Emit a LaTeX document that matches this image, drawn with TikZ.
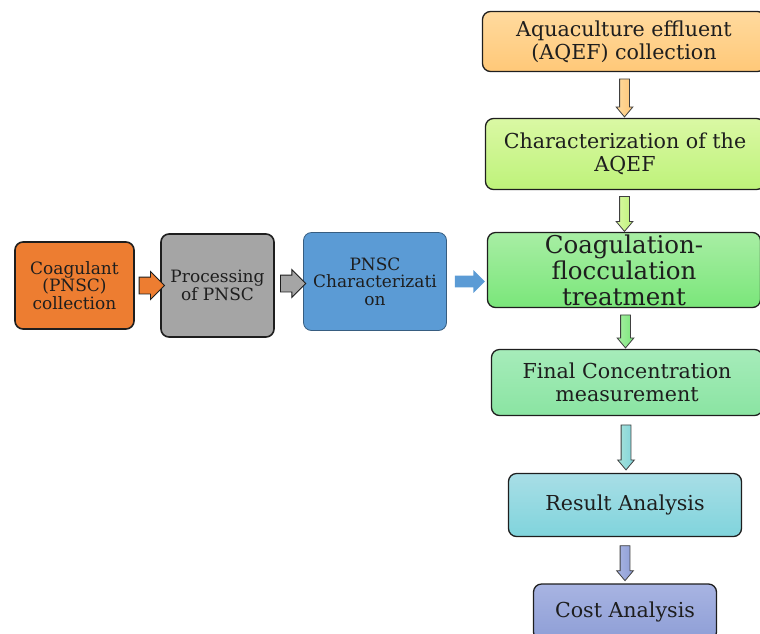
\documentclass[tikz,border=0pt]{standalone}
\usepackage{fontspec}
\setmainfont{DejaVu Serif}
\usetikzlibrary{shapes.arrows,calc}

\definecolor{orng}{HTML}{ED7D31}
\definecolor{gry}{HTML}{A5A5A5}
\definecolor{blu}{HTML}{5B9BD5}
\definecolor{edge}{HTML}{1E1E1E}
\definecolor{aquaA}{HTML}{FFDA9E}
\definecolor{aquaB}{HTML}{FFC878}
\definecolor{charA}{HTML}{DAF8A4}
\definecolor{charB}{HTML}{BEF27A}
\definecolor{coagA}{HTML}{A8EEA4}
\definecolor{coagB}{HTML}{7AE67A}
\definecolor{finA}{HTML}{A6ECBA}
\definecolor{finB}{HTML}{8AE4A2}
\definecolor{resA}{HTML}{A8DEE6}
\definecolor{resB}{HTML}{80D4DC}
\definecolor{costA}{HTML}{A8B4E2}
\definecolor{costB}{HTML}{8E9ED6}

\tikzset{
  box/.style={draw=edge,line width=1.6pt,rounded corners=8pt,align=center,inner sep=0pt,text=edge},
  lbox/.style={box,font=\fontsize{17}{17.5}\selectfont},
  rbox/.style={box,line width=1.3pt,font=\fontsize{20.6}{23}\selectfont},
  harrow/.style={single arrow,draw=edge,line width=.9pt,inner sep=8pt,
    single arrow head extend=5.5pt,single arrow head indent=0pt,single arrow tip angle=90},
  varrow/.style={single arrow,rotate=-90,draw=black!75,line width=.8pt,inner sep=4.5pt,
    single arrow head extend=3.5pt,single arrow head indent=0pt,single arrow tip angle=80}
}

\begin{document}
\begin{tikzpicture}[x=1pt,y=-1pt]
  \useasboundingbox (0,0) rectangle (760,633);

  % coagulant side
  \node[lbox,fill=orng,minimum width=119pt,minimum height=87pt] (pcol) at (74.5,285.5)
    {Coagulant\\(PNSC)\\collection};
  \node[lbox,fill=gry,minimum width=113pt,minimum height=103pt] (pproc) at (217.5,285.5)
    {Processing\\of PNSC};
  \node[lbox,draw=blu!60!black,line width=.8pt,fill=blu,minimum width=143pt,minimum height=98pt] (pchar) at (375,281.5)
    {PNSC\\Characterizati\\on};

  % effluent side
  \node[rbox,top color=aquaA,bottom color=aquaB,minimum width=283pt,minimum height=60pt] (aqua) at (624,41.5)
    {Aquaculture effluent\\(AQEF) collection};
  \node[rbox,top color=charA,bottom color=charB,minimum width=279pt,minimum height=71pt] (charq) at (625,154)
    {Characterization of the\\AQEF};
  \node[rbox,font=\fontsize{24.5}{26}\selectfont,top color=coagA,bottom color=coagB,minimum width=273pt,minimum height=75pt] (coag) at (624,270)
    {Coagulation-\\flocculation\\treatment};
  \node[rbox,top color=finA,bottom color=finB,minimum width=271pt,minimum height=66pt] (fin) at (627,382.5)
    {Final Concentration\\measurement};
  \node[rbox,top color=resA,bottom color=resB,minimum width=233pt,minimum height=63pt] (res) at (625,505)
    {Result Analysis};
  \node[rbox,top color=costA,bottom color=costB,minimum width=183pt,minimum height=56pt] (cost) at (625,612)
    {Cost Analysis};

  % block arrows
  \node[harrow,fill=orng,minimum height=17pt] at ($(pcol.east)!.5!(pproc.west)$) {};
  \node[harrow,fill=gry,minimum height=18pt] at ($(pproc.east)!.5!(pchar.west)$) {};
  \node[harrow,draw=none,fill=blu,inner sep=5.5pt,minimum height=30pt] at ($(pchar.east)!.5!(pchar.east -| coag.west)$) {};
  \node[varrow,left color=aquaA,right color=aquaB,minimum height=38pt] at ($(aqua.south)!.5!(charq.north)$) {};
  \node[varrow,left color=charA,right color=charB,minimum height=35pt] at ($(charq.south)!.5!(coag.north)$) {};
  \node[varrow,left color=coagA,right color=coagB,minimum height=33pt] at ($(coag.south)!.5!(fin.north)$) {};
  \node[varrow,left color=resA!70!finA,right color=resB,minimum height=45pt] at ($(fin.south)!.5!(res.north)$) {};
  \node[varrow,left color=costA,right color=costB,minimum height=35pt] at ($(res.south)!.5!(cost.north)$) {};
\end{tikzpicture}
\end{document}
